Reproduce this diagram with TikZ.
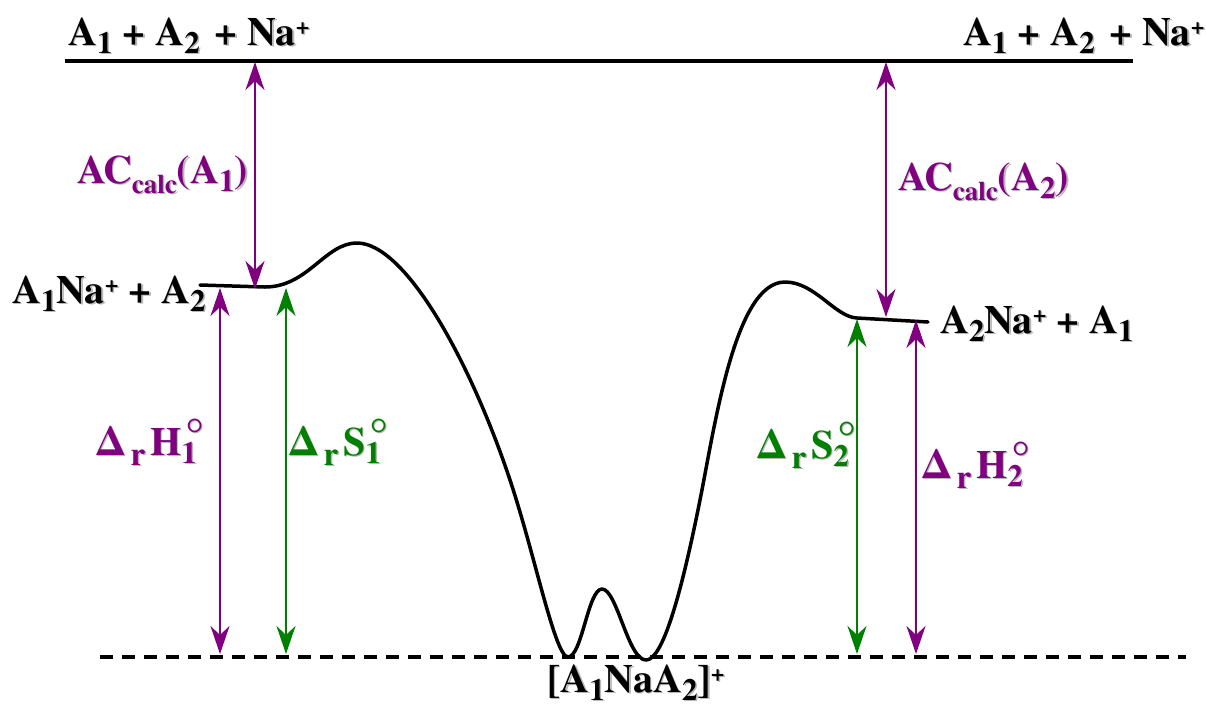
\documentclass[tikz,border=0pt]{standalone}
\usepackage{fontspec}
\setmainfont{texgyretermes}[Extension=.otf, UprightFont=*-regular, BoldFont=*-bold]
\usetikzlibrary{arrows.meta}
\definecolor{enth}{HTML}{800080}
\definecolor{entr}{HTML}{008000}
\definecolor{shade}{HTML}{B8B8B8}
% text helpers: drop shadow, sub/superscripts
\newcommand{\shd}[1]{\rlap{\color{shade}\kern1.5pt\raisebox{-1.5pt}{#1}}#1}
\newcommand{\lo}[1]{\raisebox{-8pt}{\fontsize{31}{31}\selectfont #1}}
\newcommand{\up}[1]{\raisebox{11pt}{\fontsize{24}{24}\selectfont #1}}
\newcommand{\sbcalc}{\raisebox{-10pt}{\fontsize{27}{27}\selectfont calc}}
\newcommand{\sbr}{\raisebox{-10pt}{\fontsize{33}{33}\selectfont r}}
\newcommand{\degr}{\raisebox{4pt}{\fontsize{48}{48}\selectfont\mdseries °}}
\newcommand{\dsym}[2]{Δ\hspace{7pt}\sbr\hspace{5pt}#1\rlap{\lo{#2}}\hspace{4pt}\degr}

\begin{document}
\begin{tikzpicture}[x=1pt, y=-1pt,
  lbl/.style={anchor=base west, inner sep=0pt, font=\fontsize{40}{44}\selectfont\bfseries},
  dbl/.style={{Stealth[length=28pt,width=19pt,inset=9pt]}-{Stealth[length=28pt,width=19pt,inset=9pt]}, line width=2pt}]
  \useasboundingbox (0,0) rectangle (1206,716);
  % levels
  \draw[line width=4pt] (65,61) -- (1133,61);
  \draw[line width=4pt, dash pattern=on 13pt off 9pt] (100,657) -- (1186,657);
  % energy profile
  \draw[line width=3.5pt, line join=round, line cap=round] (200,285) -- (265,287)
    .. controls (308,287) and (325,243) .. (357,243)
    .. controls (405,243) and (470,360) .. (510,480)
    .. controls (535,555) and (555,657) .. (568,657)
    .. controls (582,657) and (588,589) .. (602,589)
    .. controls (617,589) and (628,660) .. (646,660)
    .. controls (662,660) and (680,600) .. (700,500)
    .. controls (715,425) and (735,282) .. (785,282)
    .. controls (815,282) and (835,317) .. (857,318) -- (928,322);
  % arrow ends
  \coordinate (ac1a) at (255,62);  \coordinate (ac1b) at (255,289);
  \coordinate (ac2a) at (886,62);  \coordinate (ac2b) at (886,317);
  \coordinate (dh1a) at (220,288); \coordinate (dh1b) at (220,654);
  \coordinate (ds1a) at (286,288); \coordinate (ds1b) at (286,654);
  \coordinate (ds2a) at (857,319); \coordinate (ds2b) at (857,654);
  \coordinate (dh2a) at (916,320); \coordinate (dh2b) at (916,654);
  \draw[dbl, enth] (ac1a) -- (ac1b);
  \draw[dbl, enth] (ac2a) -- (ac2b);
  \draw[dbl, enth] (dh1a) -- (dh1b);
  \draw[dbl, entr] (ds1a) -- (ds1b);
  \draw[dbl, entr] (ds2a) -- (ds2b);
  \draw[dbl, enth] (dh2a) -- (dh2b);
  % labels
  \node[lbl] (topl) at (68,45) {\shd{A\lo{1} + A\lo{2}\hspace{5pt} + Na\up{+}}};
  \node[lbl] (topr) at (963,45) {\shd{A\lo{1} + A\lo{2}\hspace{5pt} + Na\up{+}}};
  \node[lbl] (lvl1) at (12,303) {\shd{A\lo{1}Na\up{+} + A\lo{2}}};
  \node[lbl] (lvl2) at (940,333) {\shd{A\lo{2}Na\up{+} + A\lo{1}}};
  \node[lbl, text=enth] (ac1) at (77,183) {\shd{AC\sbcalc(A\lo{1})}};
  \node[lbl, text=enth] (ac2) at (898,190) {\shd{AC\sbcalc(A\lo{2})}};
  \node[lbl, text=enth] (dh1) at (97,455) {\shd{\dsym{H}{1}}};
  \node[lbl, text=entr] (ds1) at (290,455) {\shd{\dsym{S}{1}}};
  \node[lbl, text=entr] (ds2) at (758,458) {\shd{\dsym{S}{2}}};
  \node[lbl, text=enth] (dh2) at (923,478) {\shd{\dsym{H}{2}}};
  \node[lbl] (cplx) at (547,692) {\shd{[A\lo{1}NaA\lo{2}]\up{+}}};
\end{tikzpicture}
\end{document}
